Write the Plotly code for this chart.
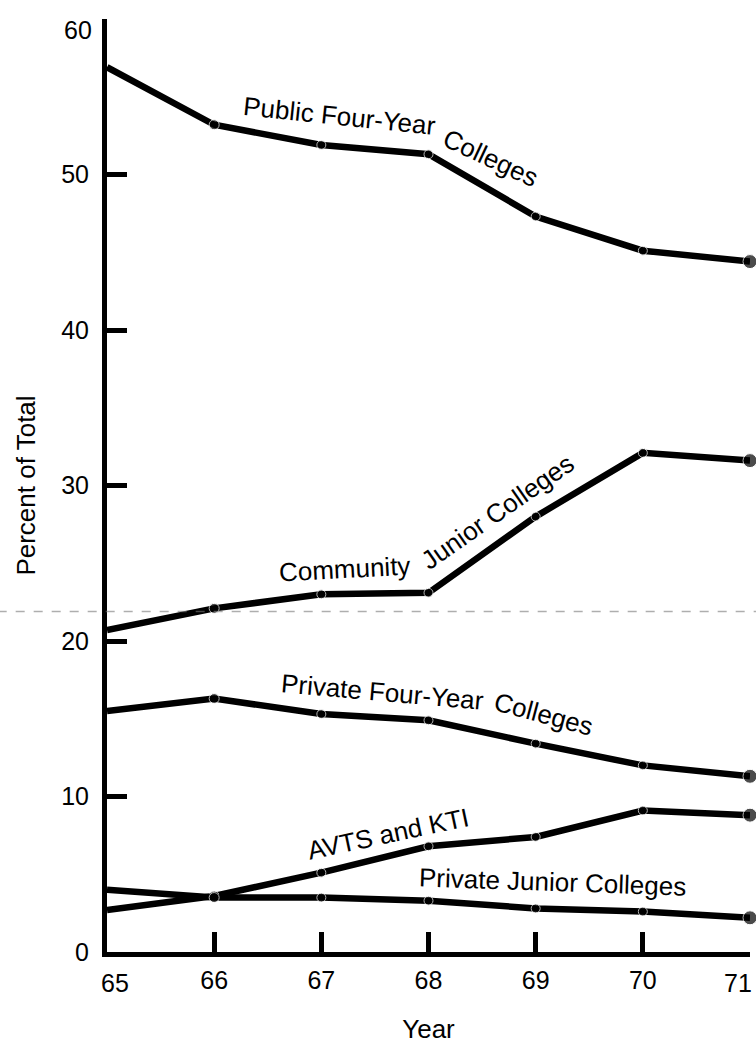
import plotly.graph_objects as go

years = [65, 66, 67, 68, 69, 70, 71]
public_four_year = [56.9, 53.2, 51.9, 51.3, 47.3, 45.1, 44.4]
community_junior = [20.7, 22.1, 23.0, 23.1, 28.0, 32.1, 31.6]
private_four_year = [15.5, 16.3, 15.3, 14.9, 13.4, 12.0, 11.3]
avts_kti = [2.7, 3.6, 5.1, 6.8, 7.4, 9.1, 8.8]
private_junior = [4.0, 3.5, 3.5, 3.3, 2.8, 2.6, 2.2]

series = [public_four_year, community_junior, private_four_year, avts_kti, private_junior]

x_ticks = [65, 66, 67, 68, 69, 70, 71]
y_ticks = [0, 10, 20, 30, 40, 50, 60]

FONT = "Liberation Sans, Arial, Helvetica, sans-serif"

fig = go.Figure()
for ys in series:
    fig.add_trace(go.Scatter(
        x=years, y=ys, mode="lines+markers",
        line=dict(color="black", width=6.5),
        marker=dict(color="black", size=[0, 10, 9, 9, 9, 9, 14]),
        cliponaxis=False, showlegend=False, hoverinfo="skip",
    ))

labels = [
    ("Public Four-Year", 67.17, 53.75, 6),
    ("Colleges", 68.58, 51.05, 25),
    ("Community", 67.22, 24.6, -3),
    ("Junior Colleges", 68.64, 28.3, -35),
    ("Private Four-Year", 67.57, 16.75, 5),
    ("Colleges", 69.07, 15.3, 15),
    ("AVTS and KTI", 67.62, 7.6, -12),
    ("Private Junior Colleges", 69.16, 4.5, 2),
]
for text, x, y, ang in labels:
    fig.add_annotation(x=x, y=y, text=text, showarrow=False, textangle=ang,
                       font=dict(family=FONT, size=26, color="black"))

# edge tick labels sit slightly inward of their ticks in the original
x_text = [str(v) for v in x_ticks]
y_text = [str(v) for v in y_ticks]
fig.add_annotation(x=x_ticks[0], xref="x", y=0, yref="paper", text=x_text[0], showarrow=False,
                   xanchor="left", yanchor="top", xshift=-8, yshift=-15,
                   font=dict(family=FONT, size=25, color="black"))
fig.add_annotation(x=x_ticks[-1], xref="x", y=0, yref="paper", text=x_text[-1], showarrow=False,
                   xanchor="right", yanchor="top", xshift=4, yshift=-15,
                   font=dict(family=FONT, size=25, color="black"))
fig.add_annotation(x=0, xref="paper", y=y_ticks[-1], yref="y", text=y_text[-1], showarrow=False,
                   xanchor="right", yanchor="middle", xshift=-13, yshift=-11,
                   font=dict(family=FONT, size=25, color="black"))
x_text[0] = ""
x_text[-1] = ""
y_text[-1] = ""

# faint dashed scan fold line
fig.add_shape(type="line", xref="paper", yref="y", x0=-0.17, x1=1.01, y0=21.9, y1=21.9,
              line=dict(color="rgba(120,120,120,0.6)", width=1.5, dash="dash"))

fig.update_layout(
    width=756, height=1047,
    margin=dict(l=107, r=6, t=19, b=95),
    paper_bgcolor="white", plot_bgcolor="white",
    font=dict(family=FONT, color="black"),
    xaxis=dict(range=[65, 71], tickvals=x_ticks, ticktext=x_text,
               showgrid=False, zeroline=False, showline=True, linecolor="black", linewidth=5,
               ticks="inside", ticklen=20, tickwidth=5, tickcolor="black",
               tickfont=dict(size=25), ticklabelstandoff=2, ticklabeloverflow="allow",
               automargin=False,
               title=dict(text="Year", font=dict(size=26), standoff=28)),
    yaxis=dict(range=[0, 60], tickvals=y_ticks, ticktext=y_text,
               showgrid=False, zeroline=False, showline=True, linecolor="black", linewidth=5,
               ticks="inside", ticklen=20, tickwidth=5, tickcolor="black",
               tickfont=dict(size=25), ticklabelstandoff=8, ticklabeloverflow="allow",
               automargin=False,
               title=dict(text="Percent of Total", font=dict(size=26), standoff=20)),
)

fig.write_html(
    "out.html",
    config={"displayModeBar": False},
    post_script="document.body.style.margin='0';document.documentElement.style.overflow='hidden';document.body.style.overflow='hidden';",
)
